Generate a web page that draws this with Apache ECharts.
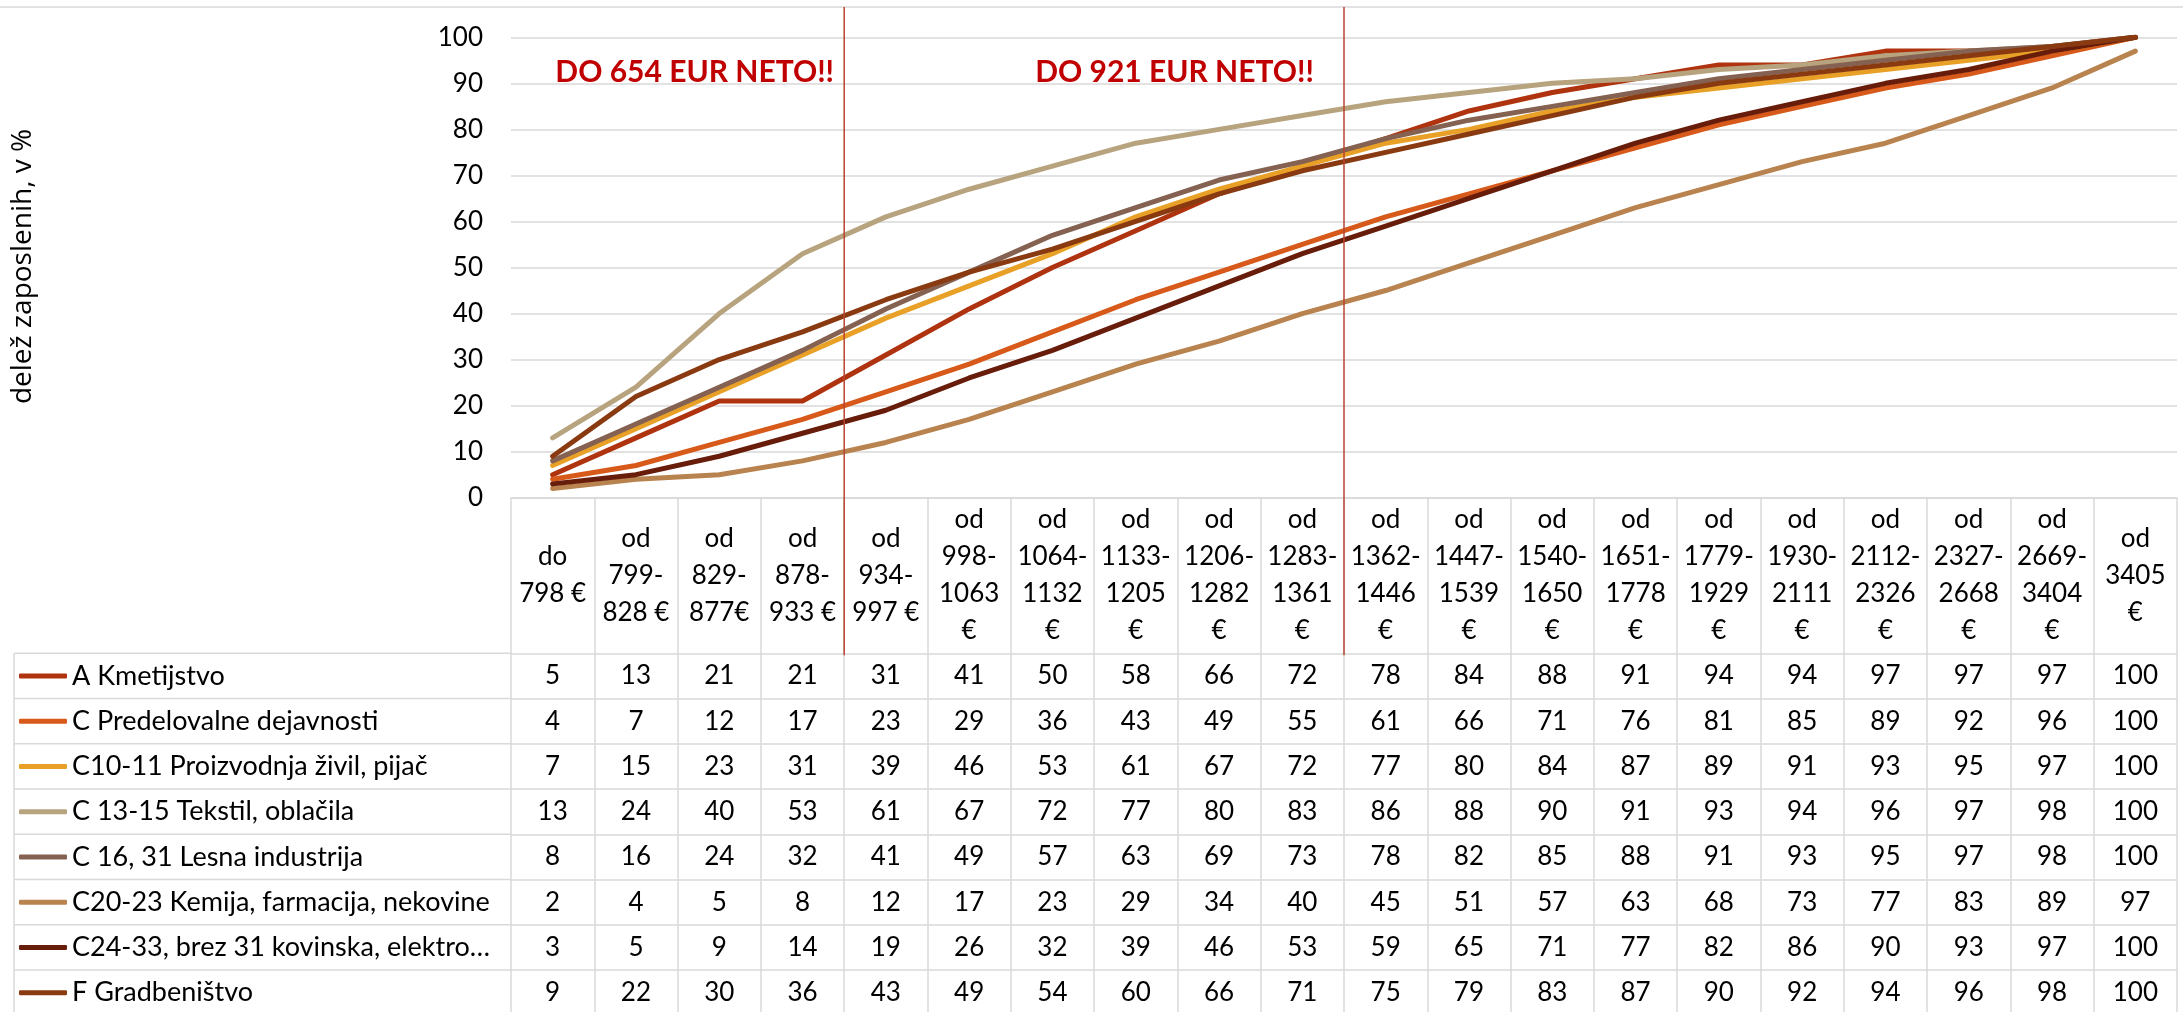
<!DOCTYPE html>
<html><head><meta charset="utf-8">
<script src="https://cdn.jsdelivr.net/npm/echarts@6/dist/echarts.min.js"></script>
<style>html,body{margin:0;padding:0;background:#fff}#c{width:2183px;height:1012px}</style>
</head><body><div id="c"></div>
<script>
// ---- data ----
const categories = [
  "do\n798 €", "od\n799-\n828 €", "od\n829-\n877€", "od\n878-\n933 €", "od\n934-\n997 €",
  "od\n998-\n1063\n€", "od\n1064-\n1132\n€", "od\n1133-\n1205\n€", "od\n1206-\n1282\n€", "od\n1283-\n1361\n€",
  "od\n1362-\n1446\n€", "od\n1447-\n1539\n€", "od\n1540-\n1650\n€", "od\n1651-\n1778\n€", "od\n1779-\n1929\n€",
  "od\n1930-\n2111\n€", "od\n2112-\n2326\n€", "od\n2327-\n2668\n€", "od\n2669-\n3404\n€", "od\n3405\n€"
];
const seriesNames = [
  "A Kmetijstvo",
  "C Predelovalne dejavnosti",
  "C10-11 Proizvodnja živil, pijač",
  "C 13-15 Tekstil, oblačila",
  "C 16, 31 Lesna industrija",
  "C20-23 Kemija, farmacija, nekovine",
  "C24-33, brez 31 kovinska, elektro…",
  "F Gradbeništvo"
];
const kmetijstvo   = [5,13,21,21,31,41,50,58,66,72,78,84,88,91,94,94,97,97,97,100];
const predelovalne = [4,7,12,17,23,29,36,43,49,55,61,66,71,76,81,85,89,92,96,100];
const zivila       = [7,15,23,31,39,46,53,61,67,72,77,80,84,87,89,91,93,95,97,100];
const tekstil      = [13,24,40,53,61,67,72,77,80,83,86,88,90,91,93,94,96,97,98,100];
const lesna        = [8,16,24,32,41,49,57,63,69,73,78,82,85,88,91,93,95,97,98,100];
const kemija       = [2,4,5,8,12,17,23,29,34,40,45,51,57,63,68,73,77,83,89,97];
const kovinska     = [3,5,9,14,19,26,32,39,46,53,59,65,71,77,82,86,90,93,97,100];
const gradbenistvo = [9,22,30,36,43,49,54,60,66,71,75,79,83,87,90,92,94,96,98,100];
const yTicks = [0,10,20,30,40,50,60,70,80,90,100];
const yTitle = "delež zaposlenih, v %";
const notes = ["DO 654 EUR NETO!!", "DO 921 EUR NETO!!"];
const noteBoundaries = [4, 10]; // category boundary index of red separator lines

const rows = [kmetijstvo, predelovalne, zivila, tekstil, lesna, kemija, kovinska, gradbenistvo];

// ---- style ----
const colors = ["#B0330F","#D85A1A","#E8A027","#B8A37F","#846151","#B9834F","#681C0A","#8A3A10"];
const FONT = "Lato";
const GRID_LEFT = 511, GRID_RIGHT = 6, GRID_TOP = 37.3, GRID_H = 460.4;
const HEADER_H = 155.6, ROW_H = 45.25;
const GRAY = "#D9D9D9";
const NOTE_OFFSETS = [-149.5, -169.5];

const chart = echarts.init(document.getElementById('c'), null, {renderer:'canvas'});

const xAxes = [{
  type: 'category', data: categories, gridIndex: 0, boundaryGap: true,
  axisLine: {show: true, lineStyle: {color: GRAY, width: 1.5}},
  axisTick: {show: true, interval: 0, length: HEADER_H, lineStyle: {color: GRAY, width: 1.5}},
  axisLabel: {interval: 0, fontFamily: FONT, fontSize: 26, lineHeight: 37, color: '#000',
              margin: HEADER_H/2, verticalAlign: 'middle', align: 'center'},
  splitLine: {show: false}
}];
rows.forEach((r, i) => {
  xAxes.push({
    type: 'category', data: categories, gridIndex: 0, position: 'bottom', boundaryGap: true,
    offset: HEADER_H + ROW_H * i,
    axisLine: {show: true, lineStyle: {color: GRAY, width: 1.5}},
    axisTick: {show: true, interval: 0, length: ROW_H, lineStyle: {color: GRAY, width: 1.5}},
    axisLabel: {interval: 0, fontFamily: FONT, fontSize: 26, color: '#000',
                margin: ROW_H/2, verticalAlign: 'middle', align: 'center',
                formatter: (v, idx) => String(r[idx])},
    splitLine: {show: false}
  });
});

const option = {
  backgroundColor: '#fff',
  animation: false,
  color: colors,
  grid: {left: GRID_LEFT, right: GRID_RIGHT, top: GRID_TOP, height: GRID_H, containLabel: false},
  xAxis: xAxes,
  yAxis: {
    type: 'value', min: yTicks[0], max: yTicks[yTicks.length-1], interval: yTicks[1]-yTicks[0],
    axisLine: {show: false}, axisTick: {show: false},
    axisLabel: {fontFamily: FONT, fontSize: 26, color: '#000', margin: 28},
    splitLine: {lineStyle: {color: GRAY, width: 1.5}}
  },
  legend: {
    orient: 'vertical', left: 19, top: 660.9, padding: 0,
    itemWidth: 48, itemHeight: 5, itemGap: 15.25, icon: 'roundRect',
    textStyle: {fontFamily: FONT, fontSize: 27, color: '#000', lineHeight: 30},
    data: seriesNames, selectedMode: false
  },
  series: rows.map((r, i) => ({
    name: seriesNames[i], type: 'line', data: r, xAxisIndex: 0, yAxisIndex: 0,
    symbol: 'none', smooth: false,
    lineStyle: {width: 5, color: colors[i], cap: 'round', join: 'round'},
    itemStyle: {color: colors[i]}
  }))
};
chart.setOption(option);

// decorations: y title, table left part, red separators, notes
const tableTop = GRID_TOP + GRID_H + HEADER_H;
const g = [];
g.push({type:'text', x: 23, y: 266.5, rotation: Math.PI/2, z: 10,
        style:{text: yTitle, fill:'#000', font: '28px "Open Sans"', textAlign:'center', textVerticalAlign:'middle'}});
g.push({type:'line', shape:{x1:0, y1:7, x2:2183, y2:7}, style:{stroke: GRAY, lineWidth: 1.5}, z: 0});
for (let k = 0; k <= rows.length; k++) {
  const y = tableTop + ROW_H * k;
  g.push({type:'line', shape:{x1:14, y1:y, x2:GRID_LEFT, y2:y}, style:{stroke: GRAY, lineWidth: 1.5}, z: 0});
}
g.push({type:'line', shape:{x1:14, y1:tableTop, x2:14, y2:tableTop + ROW_H*rows.length}, style:{stroke: GRAY, lineWidth: 1.5}, z: 0});
noteBoundaries.forEach((b, j) => {
  const xa = chart.convertToPixel({xAxisIndex: 0}, b - 1);
  const xb = chart.convertToPixel({xAxisIndex: 0}, b);
  const x = (xa + xb) / 2;
  g.push({type:'line', shape:{x1:x, y1:7, x2:x, y2:tableTop + 2}, style:{stroke:'#B8432F', lineWidth: 1.5}, z: 10});
  g.push({type:'text', x: x + NOTE_OFFSETS[j], y: 72, z: 10,
          style:{text: notes[j], fill:'#C00000', font: 'bold 30px Lato', textAlign:'center', textVerticalAlign:'middle'}});
});
chart.setOption({graphic: g});
</script></body></html>
